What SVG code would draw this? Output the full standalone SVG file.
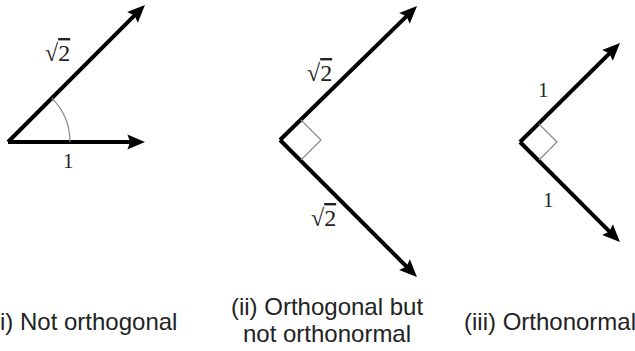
<svg xmlns="http://www.w3.org/2000/svg" width="635" height="351" viewBox="0 0 635 351">
<style>
.vec{stroke:#000;stroke-width:4;fill:none;marker-end:url(#ah)}
.thin{stroke:#888;stroke-width:1.2;fill:none}
.math{font-family:"Liberation Serif",serif;font-size:24px;fill:#222}
.one{font-family:"Liberation Serif",serif;font-size:21px;fill:#222}
.cap{font-family:"Liberation Sans",Arial,sans-serif;font-size:24px;fill:#222}
</style>
<defs>
<marker id="ah" markerWidth="6" markerHeight="6" refX="2.4" refY="1.9" orient="auto" markerUnits="strokeWidth" overflow="visible">
<path d="M0,0 L4.4,1.9 L0,3.8 L0.7,1.9 Z" fill="#000"/>
</marker>
</defs>
<g id="connectors">
<path class="vec" d="M8,142 L139.3,10.7"/>
<path class="vec" d="M8,142 L137,142"/>
<path class="vec" d="M280,140 L411.3,11.6"/>
<path class="vec" d="M280,140 L411.3,271.3"/>
<path class="vec" d="M520,142 L614.3,48.6"/>
<path class="vec" d="M520,142 L614.3,236.3"/>
</g>
<g id="panel1">
<path class="thin" d="M51.8,98.2 A62,62 0 0 1 70,142"/>
<text class="math" x="45" y="61">√<tspan text-decoration="overline">2</tspan></text>
<text class="one" x="63" y="168">1</text>
<text class="cap" x="0" y="330">i) Not orthogonal</text>
</g>
<g id="panel2">
<path class="thin" d="M301,120 L321,140 L301,160"/>
<text class="math" x="307" y="81">√<tspan text-decoration="overline">2</tspan></text>
<text class="math" x="311" y="226">√<tspan text-decoration="overline">2</tspan></text>
<text class="cap" x="327" y="315" text-anchor="middle">(ii) Orthogonal but</text>
<text class="cap" x="327" y="342" text-anchor="middle">not orthonormal</text>
</g>
<g id="panel3">
<path class="thin" d="M539,124 L557,142 L539,160"/>
<text class="one" x="538" y="97">1</text>
<text class="one" x="543" y="207">1</text>
<text class="cap" x="464" y="330">(iii) Orthonormal</text>
</g>
</svg>
